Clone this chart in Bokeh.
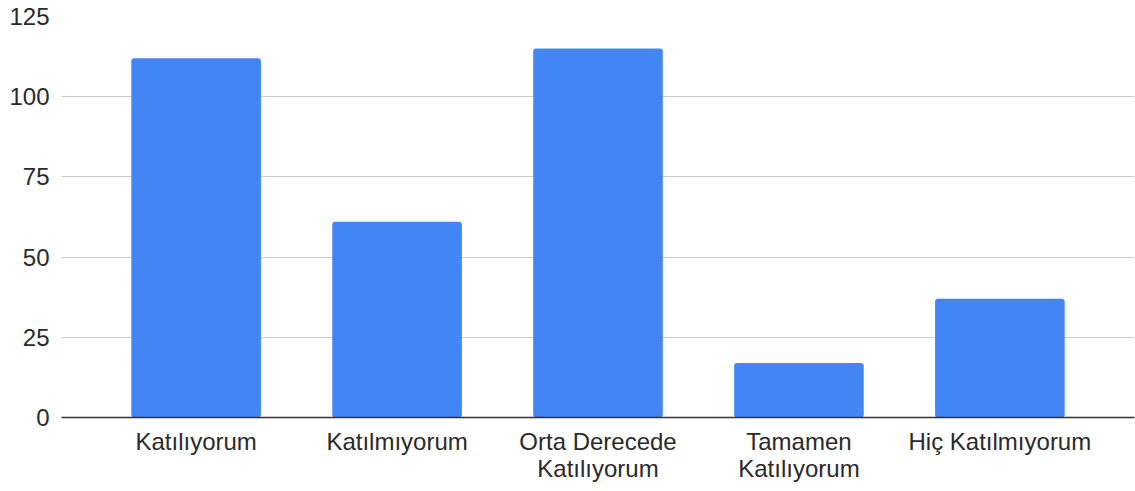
from bokeh.plotting import figure
from bokeh.models import FactorRange, Range1d, FixedTicker, ColumnDataSource
from bokeh.embed import file_html
from bokeh.resources import INLINE

categories = ["Katılıyorum", "Katılmıyorum", "Orta Derecede\nKatılıyorum",
              "Tamamen\nKatılıyorum", "Hiç Katılmıyorum"]
values = [112, 61, 115, 17, 37]
y_ticks = [0, 25, 50, 75, 100, 125]

FONT = "Liberation Sans"
TEXT = "#2a2a2a"

src = ColumnDataSource(dict(cat=categories, val=values))

p = figure(
    width=1135, height=491,
    x_range=FactorRange(*categories, range_padding=0.17, range_padding_units="absolute"),
    y_range=Range1d(y_ticks[0], y_ticks[-1]),
    output_backend="svg", toolbar_location=None,
    min_border_left=61, min_border_right=1, min_border_top=16, min_border_bottom=74,
)
p.outline_line_color = None
p.background_fill_color = "white"
p.border_fill_color = "white"

p.vbar(x="cat", top="val", width=0.645, source=src, fill_color="#4285F4",
       line_color=None, border_radius=3)

p.xgrid.grid_line_color = None
p.ygrid.grid_line_color = "#cccccc"
p.ygrid.grid_line_width = 1
p.yaxis.ticker = FixedTicker(ticks=y_ticks)

p.yaxis.axis_line_color = None
p.yaxis.major_tick_line_color = None
p.yaxis.minor_tick_line_color = None
p.yaxis.major_tick_out = 0
p.yaxis.major_label_standoff = 12
p.yaxis.major_label_text_font = FONT
p.yaxis.major_label_text_font_size = "24px"
p.yaxis.major_label_text_color = TEXT

p.xaxis.axis_line_color = "#333333"
p.xaxis.axis_line_width = 1.5
p.xaxis.major_tick_line_color = None
p.xaxis.major_tick_out = 0
p.xaxis.major_label_standoff = 10
p.xaxis.major_label_text_font = FONT
p.xaxis.major_label_text_font_size = "24px"
p.xaxis.major_label_text_color = TEXT
p.xaxis.major_label_text_line_height = 1.0

open("out.html", "w").write(file_html(p, INLINE))
